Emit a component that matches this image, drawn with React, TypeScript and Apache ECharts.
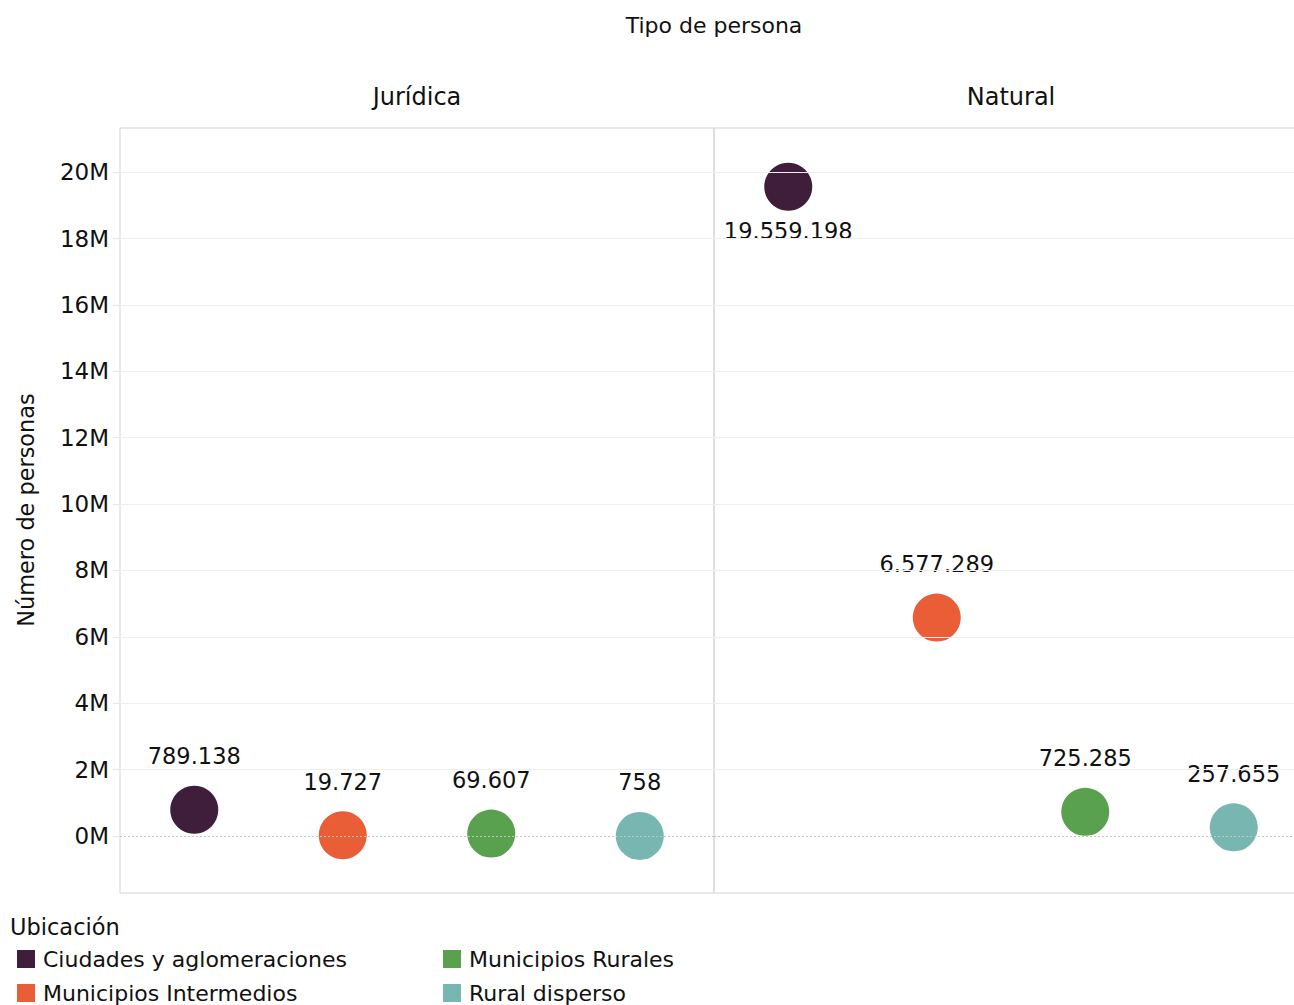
import React, { useEffect, useRef } from "react";
import * as echarts from "echarts";

const chartTitle = "Tipo de persona";
const panels = ["Jurídica", "Natural"];
const categories = [
  "Ciudades y aglomeraciones",
  "Municipios Intermedios",
  "Municipios Rurales",
  "Rural disperso",
];
const juridicaValues = [789138, 19727, 69607, 758];
const naturalValues = [19559198, 6577289, 725285, 257655];
const panelValues = [juridicaValues, naturalValues];
const colors = ["#3E1E3A", "#EA5E37", "#59A14F", "#78B7B1"];
const yTicks = [0, 2e6, 4e6, 6e6, 8e6, 10e6, 12e6, 14e6, 16e6, 18e6, 20e6];
const yMin = -1.72e6;
const yMax = 21.33e6;
const yAxisTitle = "Número de personas";
const legendTitle = "Ubicación";
const legendColumns = [
  ["Ciudades y aglomeraciones", "Municipios Intermedios"],
  ["Municipios Rurales", "Rural disperso"],
];

const FONT = "DejaVu Sans";
const TEXT = "#111111";

function fmt(v: number): string {
  return String(Math.round(v)).replace(/\B(?=(\d{3})+(?!\d))/g, ".");
}

export default function App() {
  const ref = useRef<HTMLDivElement>(null);
  useEffect(() => {
    document.body.style.margin = "0";
    const chart = echarts.init(ref.current!, undefined, { renderer: "svg" });
    const gridLeft = [120, 714];
    const gridWidth = 594;
    const grids = gridLeft.map((l) => ({
      left: l,
      top: 128,
      width: gridWidth,
      height: 765,
      show: true,
      containLabel: false,
      outerBoundsMode: "none",
      borderColor: "#d4d4d4",
      borderWidth: 1,
      backgroundColor: "transparent",
    }));
    const xAxes = panels.map((_, p) => ({
      type: "category",
      gridIndex: p,
      data: categories,
      boundaryGap: true,
      axisLine: { show: false },
      axisTick: { show: false },
      axisLabel: { show: false },
      splitLine: { show: false },
    }));
    const yAxes = panels.map((_, p) => ({
      type: "value",
      gridIndex: p,
      min: yMin,
      max: yMax,
      axisLine: { show: false },
      axisTick: {
        show: p === 0,
        length: 7,
        customValues: yTicks,
        lineStyle: { color: "#e6e6e6" },
      },
      axisLabel: {
        show: p === 0,
        customValues: yTicks,
        margin: 11,
        formatter: (v: number) => `${Math.round(v / 1e6)}M`,
        fontFamily: FONT,
        fontSize: 23,
        color: TEXT,
      },
      splitLine: { show: false },
    }));

    const series: any[] = [];
    panels.forEach((_, p) => {
      series.push({
        type: "scatter",
        xAxisIndex: p,
        yAxisIndex: p,
        data: [],
        silent: true,
        z: 1,
        markLine: {
          silent: true,
          symbol: "none",
          label: { show: false },
          animation: false,
          data: yTicks.map((v) => ({
            yAxis: v,
            lineStyle: v === 0
              ? { color: "#c4c4c4", type: [2, 2], width: 1 }
              : { color: "#efefef", type: "solid", width: 1 },
          })),
        },
      });
      categories.forEach((c, i) => {
        const v = panelValues[p][i];
        const below = v > 0.8 * yMax;
        series.push({
          type: "scatter",
          name: c,
          xAxisIndex: p,
          yAxisIndex: p,
          z: 3,
          symbol: "circle",
          symbolSize: 48,
          itemStyle: { color: colors[i], opacity: 1 },
          data: [[c, v]],
          label: {
            show: true,
            position: below ? "bottom" : "top",
            distance: below ? 9 : 18,
            formatter: (d: any) => fmt(d.value[1]),
            fontFamily: FONT,
            fontSize: 22.5,
            color: TEXT,
          },
          emphasis: { disabled: true },
        });
      });
    });

    const legends = legendColumns.map((col, k) => ({
      show: true,
      orient: "vertical",
      left: k === 0 ? 12 : 438,
      top: 943,
      height: 80,
      itemWidth: 18,
      itemHeight: 18,
      itemGap: 12,
      icon: "rect",
      selectedMode: false,
      data: col,
      textStyle: {
        fontFamily: FONT,
        fontSize: 22,
        lineHeight: 20,
        color: TEXT,
        padding: [0, 0, 0, 3],
      },
    }));

    chart.setOption({
      animation: false,
      backgroundColor: "#ffffff",
      grid: grids,
      xAxis: xAxes,
      yAxis: yAxes,
      legend: legends,
      series,
      graphic: [
        {
          type: "text",
          x: 714,
          y: 25,
          style: {
            text: chartTitle,
            align: "center",
            verticalAlign: "middle",
            fontFamily: FONT,
            fontSize: 22,
            fill: TEXT,
          },
        },
        ...panels.map((name, p) => ({
          type: "text",
          x: gridLeft[p] + gridWidth / 2,
          y: 97,
          style: {
            text: name,
            align: "center",
            verticalAlign: "middle",
            fontFamily: FONT,
            fontSize: 24,
            fill: TEXT,
          },
        })),
        {
          type: "text",
          x: 26,
          y: 510,
          rotation: Math.PI / 2,
          style: {
            text: yAxisTitle,
            align: "center",
            verticalAlign: "middle",
            fontFamily: FONT,
            fontSize: 22.4,
            fill: TEXT,
          },
        },
        {
          type: "text",
          x: 10,
          y: 927,
          style: {
            text: legendTitle,
            align: "left",
            verticalAlign: "middle",
            fontFamily: FONT,
            fontSize: 22.5,
            fill: TEXT,
          },
        },
      ],
    });
    return () => chart.dispose();
  }, []);
  return <div ref={ref} style={{ width: 1294, height: 1005 }} />;
}
